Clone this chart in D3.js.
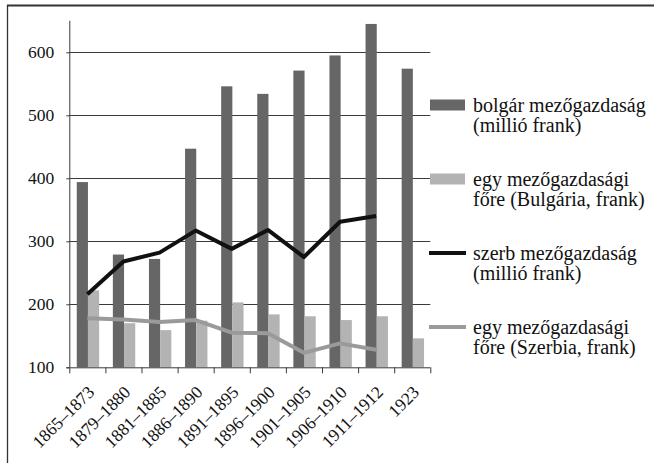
<!DOCTYPE html>
<html>
<head>
<meta charset="utf-8">
<script src="https://cdn.jsdelivr.net/npm/d3@7"></script>
<style>
  html, body { margin: 0; padding: 0; background: #fff; }
  svg { display: block; }
</style>
</head>
<body>
<svg id="chart" width="654" height="463"></svg>
<script>
// ── Data ─────────────────────────────────────────────────────────────────────
const periods = ['1865–1873', '1879–1880', '1881–1885', '1886–1890', '1891–1895',
                 '1896–1900', '1901–1905', '1906–1910', '1911–1912', '1923'];

const bulgarTotal   = [394, 279, 272, 447, 546, 534, 571, 595, 645, 574];  // millió frank
const bulgarPerHead = [222, 170, 159, 174, 203, 184, 181, 175, 181, 146];  // frank / fő
const serbTotal     = [216, 268, 282, 317, 288, 318, 275, 331, 340, null];
const serbPerHead   = [178, 176, 172, 175, 155, 154, 123, 138, 128, null];

const yTicks = [100, 200, 300, 400, 500, 600];

const legendItems = [
  { type: 'rect', color: '#666666', lines: ['bolgár mezőgazdaság', '(millió frank)'] },
  { type: 'rect', color: '#b3b3b3', lines: ['egy mezőgazdasági', 'főre (Bulgária, frank)'] },
  { type: 'line', color: '#111111', lines: ['szerb mezőgazdaság', '(millió frank)'] },
  { type: 'line', color: '#9a9a9a', lines: ['egy mezőgazdasági', 'főre (Szerbia, frank)'] },
];

// ── Layout ───────────────────────────────────────────────────────────────────
const FONT = "'Liberation Serif'";
const P = { left: 69.3, right: 430.3, top: 20.8, bottom: 367.3 };
const INK = '#3a3a3a';

const svg = d3.select('#chart');

// frame (only top + left edges are visible in the scan)
svg.append('line').attr('x1', 7).attr('x2', 654).attr('y1', 5.5).attr('y2', 5.5)
  .attr('stroke', '#333').attr('stroke-width', 2);
svg.append('line').attr('x1', 7.5).attr('x2', 7.5).attr('y1', 5).attr('y2', 463)
  .attr('stroke', '#333').attr('stroke-width', 1.3);

// ── Scales ───────────────────────────────────────────────────────────────────
const x = d3.scaleBand().domain(periods).range([P.left, P.right]).padding(0);
const y = d3.scaleLinear().domain([100, 650]).range([P.bottom, P.top]);
const bw = x.bandwidth();
const barW = bw * 0.31;

// ── Gridlines + y axis ───────────────────────────────────────────────────────
svg.append('g')
  .attr('transform', `translate(${P.left},0)`)
  .call(d3.axisLeft(y).tickValues(yTicks).tickSize(3).tickPadding(12).tickFormat(d3.format('d')))
  .call(g => g.select('.domain').remove())
  .call(g => g.selectAll('.tick line').attr('stroke', INK))
  .call(g => g.selectAll('.tick text')
    .style('font-family', FONT).style('font-size', '17.5px').attr('fill', '#111'));

svg.append('g').selectAll('line')
  .data(yTicks.filter(t => t > 100))
  .join('line')
    .attr('x1', P.left).attr('x2', P.right)
    .attr('y1', d => Math.round(y(d)) + 0.5).attr('y2', d => Math.round(y(d)) + 0.5)
    .attr('stroke', INK).attr('stroke-width', 1);

// ── Bars ─────────────────────────────────────────────────────────────────────
const bars = svg.append('g');
bars.selectAll('rect.bg')
  .data(periods)
  .join('rect')
    .attr('class', 'bg')
    .attr('x', d => x(d) + bw / 2 - barW + 0.6)
    .attr('y', (d, i) => y(bulgarTotal[i]))
    .attr('width', barW)
    .attr('height', (d, i) => P.bottom - y(bulgarTotal[i]))
    .attr('fill', '#666666');

bars.selectAll('rect.ph')
  .data(periods)
  .join('rect')
    .attr('class', 'ph')
    .attr('x', d => x(d) + bw / 2 + 0.6)
    .attr('y', (d, i) => y(bulgarPerHead[i]))
    .attr('width', barW)
    .attr('height', (d, i) => P.bottom - y(bulgarPerHead[i]))
    .attr('fill', '#b3b3b3');

// ── X axis ───────────────────────────────────────────────────────────────────
svg.append('line')
  .attr('x1', P.left - 3).attr('x2', P.right)
  .attr('y1', P.bottom + 0.5).attr('y2', P.bottom + 0.5)
  .attr('stroke', INK);
svg.append('line')
  .attr('x1', P.left + 0.5).attr('x2', P.left + 0.5)
  .attr('y1', P.top).attr('y2', P.bottom)
  .attr('stroke', INK);

svg.append('g').selectAll('line')
  .data(periods.map(p => x(p)).concat([P.right]))
  .join('line')
    .attr('x1', d => d + 0.5).attr('x2', d => d + 0.5)
    .attr('y1', P.bottom).attr('y2', P.bottom + 6)
    .attr('stroke', INK);

svg.append('g').selectAll('text')
  .data(periods)
  .join('text')
    .attr('transform', d => `translate(${x(d) + bw / 2 + 8},${P.bottom + 26}) rotate(-45)`)
    .attr('text-anchor', 'end')
    .style('font-family', FONT).style('font-size', '17.5px').attr('fill', '#111')
    .text(d => d);

// ── Lines ────────────────────────────────────────────────────────────────────
const line = d3.line()
  .defined(d => d[1] != null)
  .x(d => x(d[0]) + bw / 2)
  .y(d => y(d[1]));

[[serbPerHead, '#9a9a9a'], [serbTotal, '#111111']].forEach(([vals, color]) => {
  svg.append('path')
    .datum(periods.map((p, i) => [p, vals[i]]))
    .attr('d', line)
    .attr('fill', 'none')
    .attr('stroke', color)
    .attr('stroke-width', 4)
    .attr('stroke-linejoin', 'round');
});

// ── Legend ───────────────────────────────────────────────────────────────────
const legendY = [105, 179, 253, 327];
const lg = svg.append('g');
legendItems.forEach((it, i) => {
  const cy = legendY[i];
  if (it.type === 'rect') {
    lg.append('rect').attr('x', 430).attr('y', cy - 5.5).attr('width', 35).attr('height', 11)
      .attr('fill', it.color);
  } else {
    lg.append('line').attr('x1', 429).attr('x2', 466).attr('y1', cy).attr('y2', cy)
      .attr('stroke', it.color).attr('stroke-width', 4);
  }
  it.lines.forEach((t, j) => {
    lg.append('text')
      .attr('x', 473).attr('y', cy + j * 20 + 7)
      .style('font-family', FONT).style('font-size', '20px').attr('fill', '#111')
      .text(t);
  });
});
</script>
</body>
</html>
